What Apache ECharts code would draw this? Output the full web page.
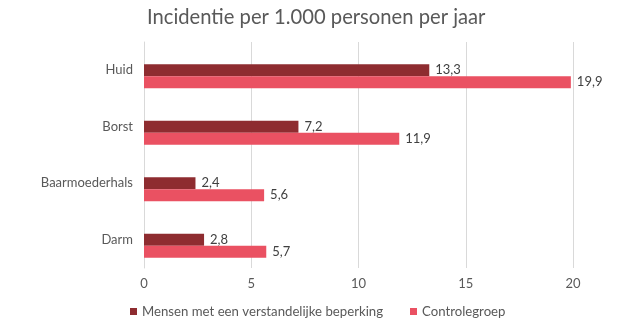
<!DOCTYPE html>
<html><head><meta charset="utf-8">
<script src="https://cdn.jsdelivr.net/npm/echarts@6/dist/echarts.min.js"></script>
<style>html,body{margin:0;padding:0;background:#fff}#c{width:619px;height:331px}</style>
</head><body><div id="c"></div>
<script>
const categories = ['Huid', 'Borst', 'Baarmoederhals', 'Darm'];
const seriesNames = ['Mensen met een verstandelijke beperking', 'Controlegroep'];
const valuesVB = [13.3, 7.2, 2.4, 2.8];
const valuesControle = [19.9, 11.9, 5.6, 5.7];
const spacer = ['-', '-', '-', '-'];
const xTicks = [0, 5, 10, 15, 20];

const font = 'Lato';
const chart = echarts.init(document.getElementById('c'));
const lbl = {
  show: true, position: 'right', distance: 6, color: '#404040', fontSize: 13, fontFamily: font,
  formatter: p => p.value.toFixed(1).replace('.', ',')
};
chart.setOption({
  animation: false,
  title: {
    text: 'Incidentie per 1.000 personen per jaar', left: 142, top: 2,
    textStyle: { fontFamily: font, fontSize: 20.2, fontWeight: 'normal', color: '#595959' }
  },
  legend: {
    data: seriesNames, bottom: 8, left: 125, itemWidth: 7, itemHeight: 7, itemGap: 27,
    icon: 'rect',
    textStyle: { fontFamily: font, fontSize: 13.2, color: '#595959' }
  },
  grid: { left: 144, right: 46, top: 42, bottom: 63 },
  xAxis: {
    type: 'value', min: xTicks[0], max: xTicks[xTicks.length - 1], interval: 5,
    axisLine: { show: false }, axisTick: { show: false },
    splitLine: { lineStyle: { color: '#d9d9d9' } },
    axisLabel: { fontFamily: font, fontSize: 13, color: '#595959', margin: 9 }
  },
  yAxis: {
    type: 'category', data: categories, inverse: true,
    axisLine: { lineStyle: { color: '#d9d9d9' } }, axisTick: { show: false },
    axisLabel: { fontFamily: font, fontSize: 13, color: '#595959', margin: 11 }
  },
  series: [
    { name: 'spacer', type: 'bar', data: spacer, barWidth: 12, barGap: '0%', silent: true, itemStyle: { color: 'transparent' } },
    { name: seriesNames[0], type: 'bar', data: valuesVB, barWidth: 12, barGap: '0%', itemStyle: { color: '#8E2C30' }, label: lbl },
    { name: seriesNames[1], type: 'bar', data: valuesControle, barWidth: 12, barGap: '0%', itemStyle: { color: '#EA5162' }, label: lbl }
  ]
});
</script></body></html>
